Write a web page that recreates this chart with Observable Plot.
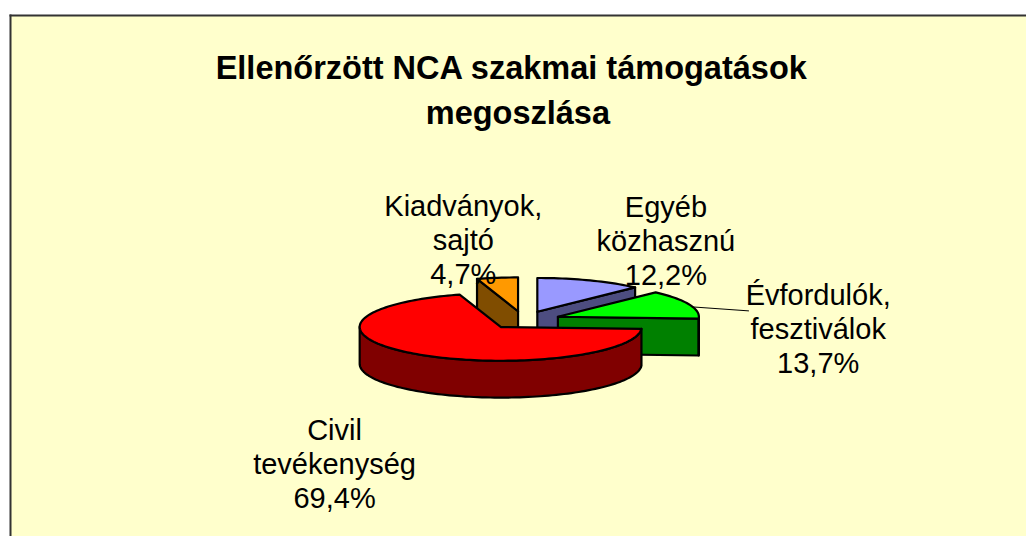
<!DOCTYPE html>
<html><head><meta charset="utf-8">
<script src="https://cdn.jsdelivr.net/npm/d3@7"></script>
<script src="https://cdn.jsdelivr.net/npm/@observablehq/plot@0.6"></script>
<style>html,body{margin:0;padding:0;background:#fff;overflow:hidden}</style>
</head><body><div id="chart"></div>
<script>
const categories = ["Egyéb\nközhasznú\n12,2%", "Évfordulók,\nfesztiválok\n13,7%", "Civil\ntevékenység\n69,4%", "Kiadványok,\nsajtó\n4,7%"];
const shares = [12.2, 13.7, 69.4, 4.7];
const topColors = ["#9999ff", "#00ff00", "#ff0000", "#ff9900"];
const sideColors = ["#4d4d80", "#008000", "#800000", "#804d00"];
const titleLines = ["Ellenőrzött NCA szakmai támogatások", "megoszlása"];
const drawOrder = [3, 0, 1, 2];

const explode = 0.262, depth = 1.09;
const total = d3.sum(shares);
let acc = 0;
const slices = shares.map((v, i) => {
  const a0 = acc / total * 2 * Math.PI; acc += v;
  const a1 = acc / total * 2 * Math.PI;
  const mid = (a0 + a1) / 2;
  return {i, a0, a1, cx: explode * Math.sin(mid), cy: explode * Math.cos(mid)};
});
function arc(s, from, to, dy = 0) {
  const n = Math.max(2, Math.ceil(Math.abs(to - from) / 0.03));
  return d3.range(n + 1).map(k => {
    const t = from + (to - from) * k / n;
    return [s.cx + Math.sin(t), s.cy + Math.cos(t) + dy];
  });
}
function poly(points, fill) {
  const closed = [...points, points[0]];
  return Plot.line(closed, {x: d => d[0], y: d => d[1], fill, stroke: "#000", strokeWidth: 2.2, strokeLinejoin: "round", curve: "linear"});
}
const marks = [
  Plot.frame({fill: "#ffffcc", stroke: "none"}),
  Plot.frame({anchor: "top", stroke: "#333", strokeWidth: 2}),
  Plot.frame({anchor: "left", stroke: "#333", strokeWidth: 2})
];
for (const idx of drawOrder) {
  const s = slices[idx], apex = [s.cx, s.cy];
  const top = [apex, ...arc(s, s.a0, s.a1)];
  const face = a => {
    const e = [s.cx + Math.sin(a), s.cy + Math.cos(a)];
    return [apex, e, [e[0], e[1] - depth], [apex[0], apex[1] - depth]];
  };
  if (Math.sin(s.a1) > 0.001) marks.push(poly(face(s.a1), sideColors[idx]));
  if (Math.sin(s.a0) < -0.001) marks.push(poly(face(s.a0), sideColors[idx]));
  const lo = Math.max(s.a0, Math.PI / 2), hi = Math.min(s.a1, 3 * Math.PI / 2);
  if (hi > lo) {
    const outer = arc(s, lo, hi);
    marks.push(poly([...outer, ...arc(s, hi, lo, -depth)], sideColors[idx]));
  }
  marks.push(poly(top, topColors[idx]));
}
const labelAt = [[1.01, 2.36], [2.09, -0.25], [-1.34, -4.23], [-0.427, 2.38]];
marks.push(Plot.line([[1.206, 0.385], [1.596, 0.27]], {x: d => d[0], y: d => d[1], stroke: "#000", strokeWidth: 1}));
marks.push(Plot.text(categories, {
  x: (d, i) => labelAt[i][0], y: (d, i) => labelAt[i][1],
  text: d => d, fontSize: 29, lineHeight: 1.17, fill: "#000", textAnchor: "middle"
}));
marks.push(Plot.text(titleLines, {
  x: (d, i) => [-0.087, -0.04][i], y: (d, i) => [7.44, 6.11][i],
  text: d => d, fontSize: 32.5, fontWeight: "bold", fill: "#000", textAnchor: "middle"
}));

const cx = 523, cy = 319.5, rx = 141, ry = 33.8;
const plot = Plot.plot({
  width: 1026, height: 536,
  marginLeft: 10, marginTop: 15, marginRight: 0, marginBottom: 0,
  style: {fontFamily: "'Liberation Sans', Arial, sans-serif", background: "#fff"},
  x: {domain: [-1, 1], range: [cx - rx, cx + rx], axis: null},
  y: {domain: [-1, 1], range: [cy + ry, cy - ry], axis: null},
  marks
});
document.getElementById("chart").appendChild(plot);
</script></body></html>
